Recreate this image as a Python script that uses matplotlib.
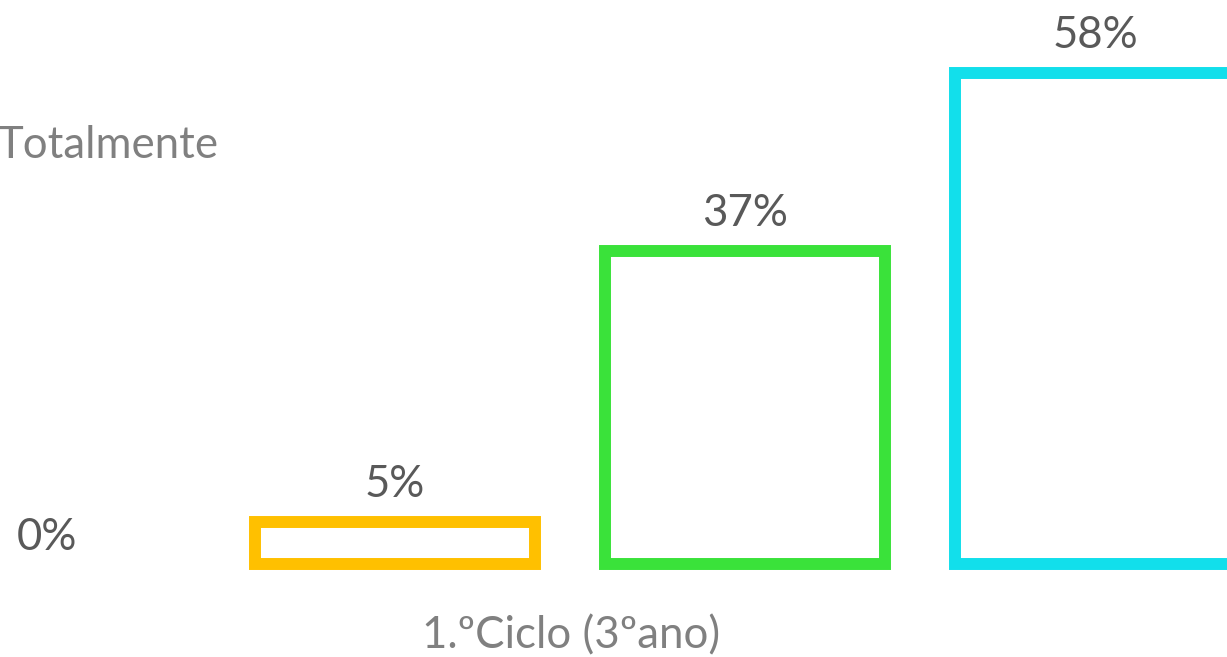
import matplotlib.pyplot as plt

W, H = 1227, 657
fs = 31.5

series = ['Nada', 'Parcialmente', 'Totalmente']
values = [5, 37, 58]
colors = ['#FFC000', '#3AE23A', '#12DFEB']
category = '1.ºCiclo (3ºano)'

plt.rcParams['font.family'] = ['Lato', 'DejaVu Sans']

fig = plt.figure(figsize=(W / 100, H / 100), dpi=100)
ax = fig.add_axes([0, 0, 1, 1])
ax.set_xlim(-1.129, 2.377)
ax.set_ylim(-10.94, 66.6)
ax.axis('off')

x = range(len(values))
bars = ax.bar(x, values, width=0.8, facecolor='white', edgecolor=colors, linewidth=8.6)
ax.bar_label(bars, labels=[str(v) + '%' for v in values], padding=12,
             fontsize=fs, color='#595959')

# pieces of the axis and legend that remain in the crop
fig.text(-3 / W, 1 - 145 / H, 'Totalmente', fontsize=fs, color='#808080', va='center', ha='left')
fig.text(17 / W, 1 - 537 / H, '0%', fontsize=fs, color='#595959', va='center', ha='left')
fig.text(571 / W, 1 - 636 / H, category, fontsize=fs, color='#808080', va='center', ha='center')

fig.savefig('out.png', dpi=100)
